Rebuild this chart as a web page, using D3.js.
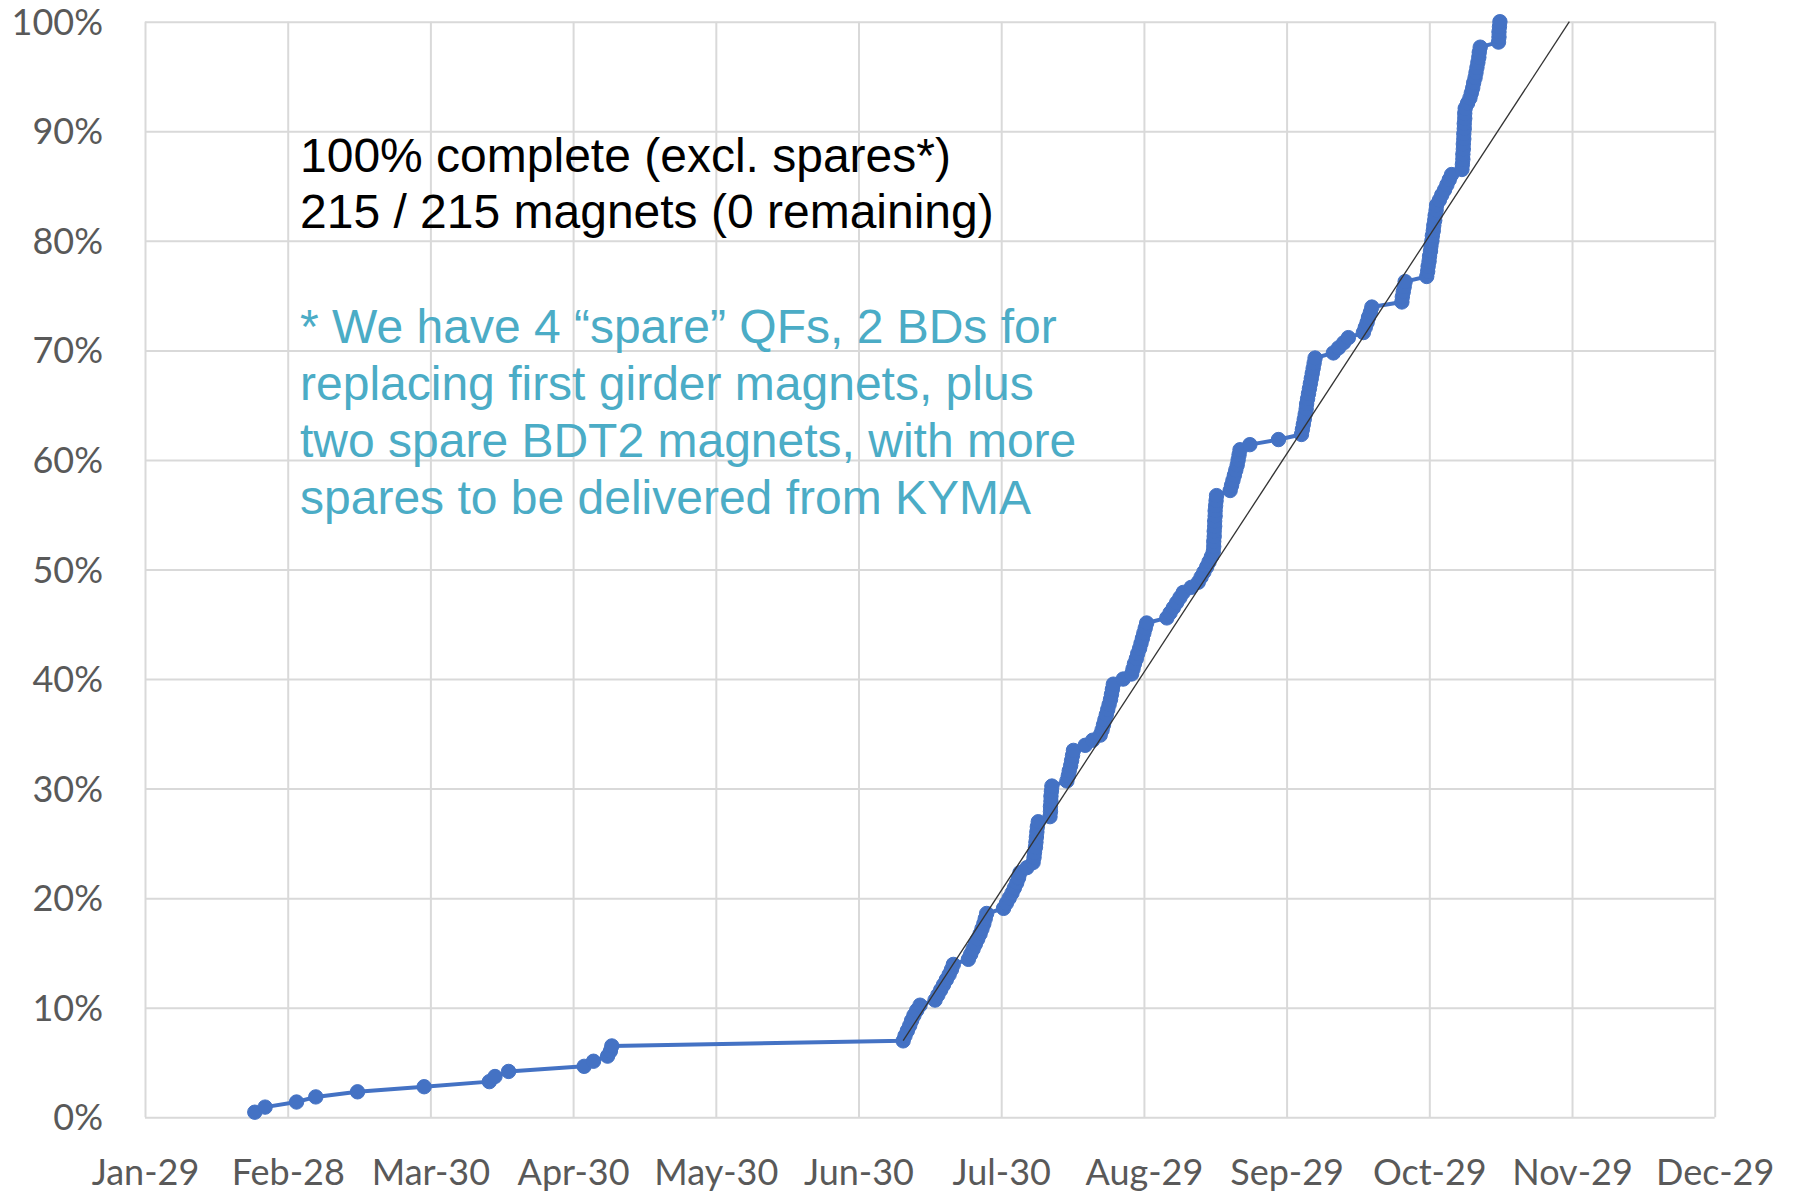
<!DOCTYPE html>
<html>
<head>
<meta charset="utf-8">
<script src="https://cdn.jsdelivr.net/npm/d3@7"></script>
<style>
  html, body { margin: 0; padding: 0; background: #ffffff; }
  svg { display: block; }
</style>
</head>
<body>
<svg id="chart" width="1797" height="1192"></svg>
<script>
// ---------- data ----------
const xTickLabels = ["Jan-29", "Feb-28", "Mar-30", "Apr-30", "May-30", "Jun-30",
                     "Jul-30", "Aug-29", "Sep-29", "Oct-29", "Nov-29", "Dec-29"];
// axis runs on day-of-year, major unit 30.4167 days
const xTickDays = [29, 59.42, 89.83, 120.25, 150.67, 181.08,
                   211.5, 241.92, 272.33, 302.75, 333.17, 363.58];
const yTicks = [0, 10, 20, 30, 40, 50, 60, 70, 80, 90, 100];

const totalMagnets = 215;
// day-of-year on which magnet #1, #2, ... #215 was completed
const dayOfYear = [
  52.4, 54.6, 61.3, 65.4, 74.3, 88.5, 102.4, 103.6, 106.5, 122.6, 124.6, 127.6, 128.2, 128.5,
  190.6, 191.0, 191.5, 192.0, 192.4, 192.9, 193.5, 194.2,
  197.4, 198.0, 198.6, 199.2, 199.8, 200.4, 200.9, 201.3,
  204.5, 205.0, 205.5, 206.0, 206.5, 207.0, 207.4, 207.8, 208.1, 208.4,
  212.0, 212.6, 213.2, 213.8, 214.3, 214.8, 215.2, 215.5,
  217.0, 218.3, 218.5, 218.6, 218.8, 218.9, 219.0, 219.1, 219.2, 219.4,
  221.9, 222.0, 222.0, 222.1, 222.1, 222.2, 222.3,
  225.5, 225.8, 226.0, 226.3, 226.5, 226.7, 226.9,
  229.4, 231.0, 232.6,
  233.0, 233.3, 233.6, 233.9, 234.2, 234.5, 234.8, 235.0, 235.2, 235.4,
  237.5, 239.3, 239.6, 239.9, 240.3, 240.6, 241.0, 241.3, 241.6, 241.9, 242.2, 242.5,
  246.8, 247.5, 248.2, 248.9, 249.6, 250.3,
  252.0, 253.5, 254.1, 254.7, 255.3, 255.8, 256.3, 256.7,
  256.8, 256.8, 256.9, 256.9, 257.0, 257.0, 257.1, 257.1, 257.2, 257.3, 257.4,
  260.3, 260.6, 260.9, 261.2, 261.5, 261.8, 262.0, 262.2, 262.4,
  264.5, 270.6, 275.5,
  275.7, 275.9, 276.1, 276.3, 276.5, 276.6, 276.8, 277.0, 277.2, 277.4, 277.6, 277.8, 278.0, 278.2, 278.4,
  282.3, 283.4, 284.5, 285.5,
  288.7, 289.1, 289.5, 289.8, 290.2, 290.5,
  296.9, 297.0, 297.2, 297.4, 297.6,
  302.2, 302.4, 302.5, 302.7, 302.8, 303.0, 303.1, 303.3, 303.4, 303.6, 303.7, 303.9, 304.0, 304.2, 304.3,
  304.9, 305.4, 306.0, 306.5, 307.0, 307.5,
  309.7, 309.8, 309.9, 309.9, 310.0, 310.0, 310.1, 310.1, 310.2, 310.2, 310.3, 310.3, 310.4,
  310.9, 311.4, 311.7, 312.0, 312.2, 312.5, 312.7, 312.9,
  313.1, 313.3, 313.4, 313.6,
  317.5, 317.6, 317.6, 317.7, 317.8
];

// linear trend line (start / end)
const trendDays = [190.6, 332.6];
const trendPct = [7.0, 100];

const noteLines = ["100% complete (excl. spares*)", "215 / 215 magnets (0 remaining)"];
const spareLines = [
  "* We have 4 \u201Cspare\u201D QFs, 2 BDs for",
  "replacing first girder magnets, plus",
  "two spare BDT2 magnets, with more",
  "spares to be delivered from KYMA"
];

// ---------- layout ----------
const W = 1797, H = 1192;
const plot = { left: 145, right: 1714.7, top: 21.7, bottom: 1117.3 };
const pw = plot.right - plot.left, ph = plot.bottom - plot.top;

const svg = d3.select("#chart");
const g = svg.append("g").attr("transform", `translate(${plot.left},${plot.top})`);

const x = d3.scaleLinear()
  .domain([xTickDays[0], xTickDays[xTickDays.length - 1]])
  .range([0, pw]);
const y = d3.scaleLinear().domain([0, 100]).range([ph, 0]);

const tickFont = "Lato, 'Open Sans', sans-serif";
const tickColor = "#595959";
const gridColor = "#D9D9D9";

// y axis + horizontal gridlines
const yAxis = g.append("g")
  .call(d3.axisLeft(y).tickValues(yTicks).tickFormat(d => d + "%")
        .tickSize(-pw).tickPadding(42));
yAxis.select(".domain").remove();
yAxis.selectAll("line").attr("stroke", gridColor).attr("stroke-width", 2);
yAxis.selectAll("text")
  .attr("fill", tickColor).attr("font-family", tickFont).attr("font-size", 36)
  .attr("dy", "0.35em");

// x axis + vertical gridlines
const xAxis = g.append("g").attr("transform", `translate(0,${ph})`)
  .call(d3.axisBottom(x).tickValues(xTickDays)
        .tickFormat((d, i) => xTickLabels[i])
        .tickSize(-ph).tickPadding(42));
xAxis.select(".domain").remove();
xAxis.selectAll("line").attr("stroke", gridColor).attr("stroke-width", 2);
xAxis.selectAll("text")
  .attr("fill", tickColor).attr("font-family", tickFont).attr("font-size", 36)
  .attr("dy", "0.71em");

// ---------- series ----------
const points = dayOfYear.map((d, i) => ({ day: d, pct: (i + 1) / totalMagnets * 100 }));
const blue = "#4472C4";

g.append("path")
  .datum(points)
  .attr("fill", "none")
  .attr("stroke", blue)
  .attr("stroke-width", 4)
  .attr("stroke-linejoin", "round")
  .attr("d", d3.line().x(d => x(d.day)).y(d => y(d.pct)));

g.append("g").selectAll("circle")
  .data(points)
  .join("circle")
  .attr("cx", d => x(d.day))
  .attr("cy", d => y(d.pct))
  .attr("r", 7.2)
  .attr("fill", blue)
  .attr("stroke", blue)
  .attr("stroke-width", 1);

// trend line
g.append("line")
  .attr("x1", x(trendDays[0])).attr("y1", y(trendPct[0]))
  .attr("x2", x(trendDays[1])).attr("y2", y(trendPct[1]))
  .attr("stroke", "#333333").attr("stroke-width", 1.3);

// ---------- annotations ----------
const noteFont = "'Liberation Sans', Arial, sans-serif";
const noteBaselines = [172, 228];
const spareBaselines = [343, 400, 457, 514];

svg.append("g").selectAll("text")
  .data(noteLines)
  .join("text")
  .attr("x", 300)
  .attr("y", (d, i) => noteBaselines[i])
  .attr("font-family", noteFont).attr("font-size", 48)
  .attr("fill", "#000000")
  .text(d => d);

svg.append("g").selectAll("text")
  .data(spareLines)
  .join("text")
  .attr("x", 300)
  .attr("y", (d, i) => spareBaselines[i])
  .attr("font-family", noteFont).attr("font-size", 48)
  .attr("fill", "#4BACC6")
  .text(d => d);
</script>
</body>
</html>
